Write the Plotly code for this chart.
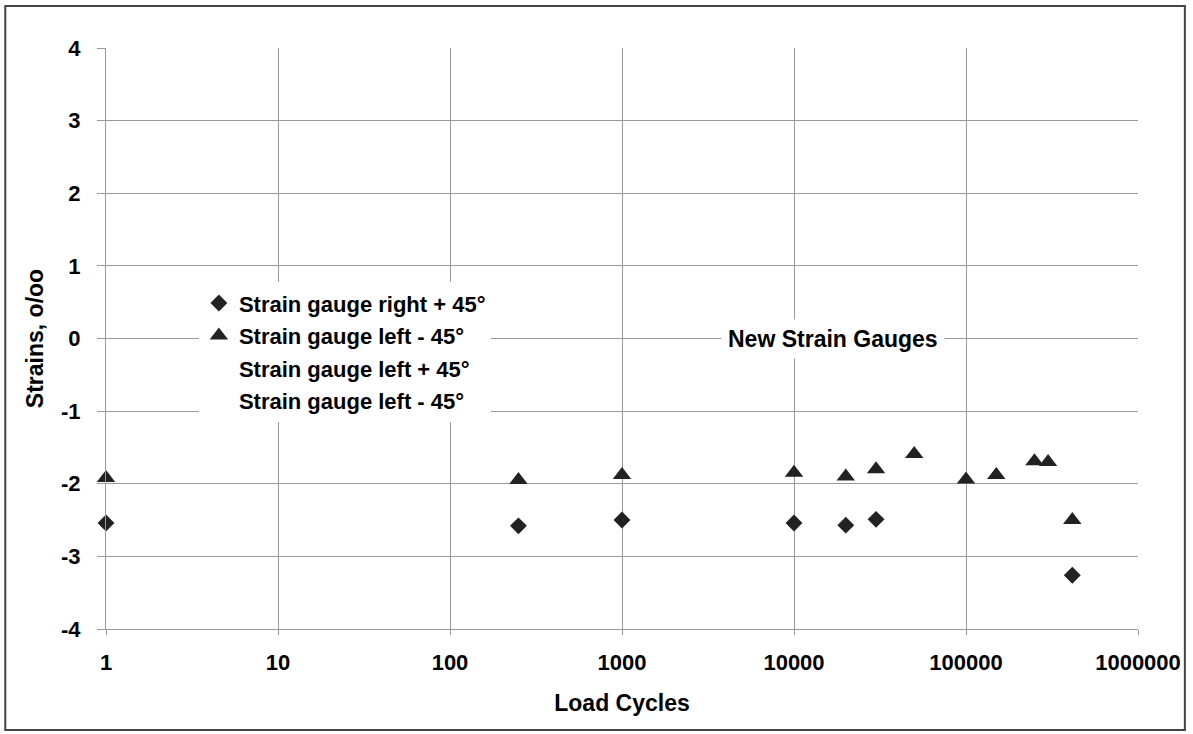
import plotly.graph_objects as go

# Data
cycles_right = [1, 250, 1000, 10000, 20000, 30000, 415000]
strain_right = [-2.54, -2.58, -2.50, -2.54, -2.57, -2.49, -3.26]

cycles_left = [1, 250, 1000, 10000, 20000, 30000, 50000, 100000, 150000, 250000, 300000, 415000]
strain_left = [-1.92, -1.95, -1.88, -1.85, -1.90, -1.80, -1.59, -1.94, -1.88, -1.69, -1.70, -2.50]

x_tickvals = [1, 10, 100, 1000, 10000, 100000, 1000000]
x_ticktext = ["1", "10", "100", "1000", "10000", "100000", "1000000"]
y_tickvals = [-4, -3, -2, -1, 0, 1, 2, 3, 4]
y_ticktext = ["-4", "-3", "-2", "-1", "0", "1", "2", "3", "4"]

series_names = [
    "Strain gauge right + 45°",
    "Strain gauge left - 45°",
    "Strain gauge left + 45°",
    "Strain gauge left - 45°",
]

FONT = "Arial, Liberation Sans, sans-serif"
MCOL = "#222222"

fig = go.Figure()
fig.add_trace(go.Scatter(x=cycles_right, y=strain_right, mode="markers", name=series_names[0],
                         legendgroup="a", cliponaxis=False,
                         marker=dict(symbol="diamond", size=13, color=MCOL)))
fig.add_trace(go.Scatter(x=cycles_left, y=strain_left, mode="markers", name=series_names[1],
                         legendgroup="b", cliponaxis=False,
                         marker=dict(symbol="triangle-up", size=16, color=MCOL)))
fig.add_trace(go.Scatter(x=[None], y=[None], mode="markers", name=series_names[2], legendgroup="c",
                         showlegend=True, marker=dict(color="rgba(0,0,0,0)")))
fig.add_trace(go.Scatter(x=[None], y=[None], mode="markers", name=series_names[3], legendgroup="d",
                         showlegend=True, marker=dict(color="rgba(0,0,0,0)")))

fig.update_layout(
    width=1193, height=734,
    margin=dict(l=106, r=52, t=48, b=105),
    paper_bgcolor="white", plot_bgcolor="white",
    font=dict(family=FONT, size=22, color="black", weight="bold"),
    legend=dict(x=0.09, y=0.597, xanchor="left", yanchor="top",
                bgcolor="white", borderwidth=0, traceorder="grouped",
                tracegroupgap=1, font=dict(size=22, weight="bold")),
    xaxis=dict(type="log", range=[0, 6], tickvals=x_tickvals, ticktext=x_ticktext,
               showgrid=True, gridcolor="#9a9a9a", gridwidth=1,
               showline=True, linecolor="#9a9a9a", linewidth=1,
               ticks="outside", ticklen=5, tickcolor="#9a9a9a",
               ticklabelstandoff=9, zeroline=False,
               tickfont=dict(size=22, weight="bold"),
               title=dict(text="Load Cycles", standoff=20, font=dict(size=23, weight="bold"))),
    yaxis=dict(range=[-4, 4], tickvals=y_tickvals, ticktext=y_ticktext,
               showgrid=True, gridcolor="#9a9a9a", gridwidth=1,
               showline=True, linecolor="#9a9a9a", linewidth=1,
               ticks="outside", ticklen=8, tickcolor="#9a9a9a",
               ticklabelstandoff=12, zeroline=False,
               tickfont=dict(size=22, weight="bold"),
               title=dict(text="Strains, o/oo", standoff=10, font=dict(size=23, weight="bold"))),
)

fig.add_annotation(x=4.226, y=0, xref="x", yref="y", text="New Strain Gauges",
                   showarrow=False, bgcolor="white", borderpad=6,
                   font=dict(size=23, weight="bold", color="black"))

# outer frame around the whole chart
fig.add_shape(type="rect", xref="paper", yref="paper",
              x0=-0.0976, x1=1.0454, y0=-0.1738, y1=1.0723,
              line=dict(color="#444444", width=2), fillcolor="rgba(0,0,0,0)", layer="below")

fig.write_html("out.html")
